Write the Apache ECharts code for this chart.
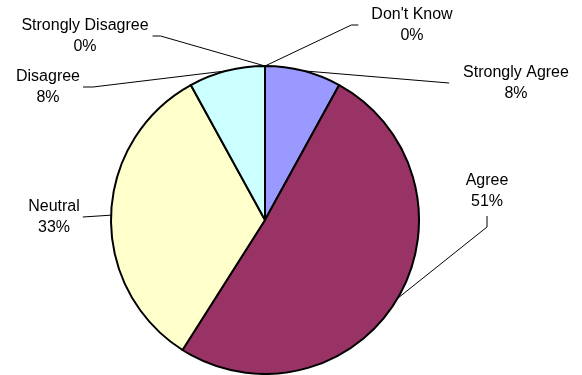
<!DOCTYPE html>
<html>
<head>
<meta charset="utf-8">
<script src="https://cdn.jsdelivr.net/npm/echarts@6/dist/echarts.min.js"></script>
<style>
  html, body { margin: 0; padding: 0; background: #ffffff; }
  #chart { width: 582px; height: 375px; }
</style>
</head>
<body>
<div id="chart"></div>
<script>
// Survey answers, clockwise from 12 o'clock
const categories = ['Strongly Agree', 'Agree', 'Neutral', 'Disagree', 'Strongly Disagree', "Don't Know"];
const percentages = [8, 51, 33, 8, 0, 0];
const sliceColors = ['#9999FF', '#993366', '#FFFFCC', '#CCFFFF', '#FFFFFF', '#FFFFFF'];

// Where each label sits: centre x, baseline of its first line, and how its leader line meets the label box
const labelPlacement = [
  { cx: 516, base: 78,  side: 'left',   gap: 14, elbow: 0 },   // Strongly Agree
  { cx: 487, base: 186, side: 'bottom', gap: 4,  elbow: 11 },  // Agree
  { cx: 54,  base: 212, side: 'right',  gap: 3,  elbow: 0 },   // Neutral
  { cx: 48,  base: 82,  side: 'right',  gap: 3,  elbow: 10 },  // Disagree
  { cx: 85,  base: 31,  side: 'right',  gap: 4,  elbow: 8 },   // Strongly Disagree
  { cx: 412, base: 20,  side: 'left',   gap: 13, elbow: 7 }    // Don't Know
];

const FIRST_BASELINE = 16; // distance from the top of a 21px text line to its baseline at 16px

const chart = echarts.init(document.getElementById('chart'), null, { renderer: 'canvas' });

const pieData = categories.map((name, i) => ({
  name: name,
  value: percentages[i],
  itemStyle: { color: sliceColors[i] }
}));

chart.setOption({
  backgroundColor: '#ffffff',
  animation: false,
  series: [{
    type: 'pie',
    center: [265, 220],
    radius: 154,
    startAngle: 90,
    clockwise: true,
    avoidLabelOverlap: false,
    data: pieData,
    itemStyle: { borderColor: '#000000', borderWidth: 2 },
    label: {
      show: true,
      position: 'outside',
      formatter: '{b}\n{c}%',
      fontFamily: '"Liberation Sans", Arial, sans-serif',
      fontSize: 16,
      lineHeight: 21,
      color: '#000000',
      align: 'center'
    },
    labelLine: {
      show: true,
      length: 10,
      length2: 10,
      smooth: false,
      lineStyle: { color: '#000000', width: 1 }
    },
    emphasis: { disabled: true },
    labelLayout: function (p) {
      const cfg = labelPlacement[p.dataIndex];
      const w = p.labelRect.width;
      const h = p.labelRect.height;
      const top = cfg.base - FIRST_BASELINE;
      const left = cfg.cx - w / 2;
      const midY = top + h / 2;
      const start = p.labelLinePoints ? p.labelLinePoints[0] : [cfg.cx, midY];
      let pts;
      if (cfg.side === 'right') {
        const ex = left + w + cfg.gap;
        pts = [start, [ex + cfg.elbow, midY], [ex, midY]];
      } else if (cfg.side === 'left') {
        const ex = left - cfg.gap;
        pts = [start, [ex - cfg.elbow, midY], [ex, midY]];
      } else {
        const ey = top + h + cfg.gap;
        pts = [start, [cfg.cx, ey + cfg.elbow], [cfg.cx, ey]];
      }
      return {
        x: cfg.cx,
        y: top,
        align: 'center',
        verticalAlign: 'top',
        labelLinePoints: pts
      };
    }
  }]
});
</script>
</body>
</html>
